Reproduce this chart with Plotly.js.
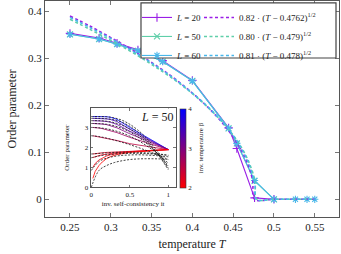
<!DOCTYPE html>
<html><head><meta charset="utf-8">
<script src="https://cdn.plot.ly/plotly-3.0.1.min.js"></script>
<style>html,body{margin:0;padding:0;background:#fff}#c{width:341px;height:254px}</style>
</head><body><div id="c"></div>
<script>
// ---- main panel data (L = system size), T = 1/beta ----
const T = [0.25, 0.2857, 0.3077, 0.3333, 0.3636, 0.4, 0.4444, 0.4545, 0.4762, 0.5];
const T60 = [0.25, 0.2857, 0.3077, 0.3333, 0.3636, 0.4, 0.4444, 0.4545, 0.4762, 0.5, 0.5263, 0.5405, 0.55];
const op20 = [0.353, 0.343, 0.332, 0.318, 0.295, 0.253, 0.152, 0.108, 0.003, 0.0];
const op50 = [0.351, 0.341, 0.330, 0.316, 0.293, 0.252, 0.151, 0.119, 0.039, 0.0];
const op60 = [0.351, 0.341, 0.330, 0.316, 0.293, 0.252, 0.151, 0.119, 0.040, 0.0, 0.0, 0.0, 0.0];
// fitted curves
const fitT20 = [0.25,0.275,0.3,0.325,0.35,0.375,0.4,0.42,0.44,0.455,0.465,0.47,0.474,0.4762,0.5,0.55];
const fit20  = [0.390,0.368,0.344,0.319,0.291,0.261,0.226,0.194,0.156,0.119,0.087,0.065,0.038,0,0,0];
const fitT50 = [0.25,0.275,0.3,0.325,0.35,0.375,0.4,0.42,0.44,0.455,0.465,0.47,0.475,0.477,0.479,0.5,0.55];
const fit50  = [0.383,0.361,0.338,0.314,0.287,0.258,0.225,0.194,0.158,0.124,0.095,0.076,0.051,0.036,0,0,0];
const fitT60 = [0.25,0.275,0.3,0.325,0.35,0.375,0.4,0.42,0.44,0.455,0.465,0.47,0.475,0.477,0.478,0.5,0.55];
const fit60  = [0.387,0.365,0.342,0.317,0.290,0.260,0.226,0.195,0.158,0.123,0.092,0.072,0.044,0.026,0,0,0];
const dataNames = ['<i>L</i> = 20', '<i>L</i> = 50', '<i>L</i> = 60'];
const fitNames = ['0.82 · (<i>T</i> − 0.4762)<sup>1/2</sup>', '0.80 · (<i>T</i> − 0.479)<sup>1/2</sup>', '0.81 · (<i>T</i> − 0.478)<sup>1/2</sup>'];

// ---- inset data (L = 50): order parameter vs inverse self-consistency iteration ----
const betas = [4, 3.5, 3.25, 3, 2.75, 2.5, 2.25, 2.2, 2.1, 2.0];
const itX = [0.02, 0.033, 0.05, 0.1, 0.143, 0.2, 0.25, 0.333, 0.5, 1];
const itY = [
  [3.57,3.57,3.57,3.57,3.57,3.56,3.53,3.43,3.02,1.9],
  [3.48,3.48,3.48,3.48,3.47,3.45,3.42,3.32,2.93,1.9],
  [3.36,3.36,3.36,3.35,3.34,3.32,3.28,3.17,2.83,1.9],
  [3.22,3.22,3.22,3.21,3.19,3.16,3.11,3.00,2.70,1.9],
  [3.02,3.02,3.01,2.99,2.96,2.91,2.86,2.76,2.52,1.9],
  [2.60,2.59,2.58,2.55,2.52,2.47,2.43,2.36,2.20,1.9],
  [1.68,1.69,1.70,1.72,1.74,1.76,1.77,1.79,1.82,1.9],
  [1.50,1.52,1.55,1.60,1.64,1.68,1.71,1.75,1.80,1.9],
  [1.00,1.10,1.20,1.38,1.48,1.58,1.64,1.71,1.79,1.9],
  [0.45,0.62,0.80,1.10,1.28,1.45,1.55,1.65,1.76,1.9]
];
const fitX = [0, 0.1, 0.2, 0.3, 0.4, 0.5, 0.6, 0.7, 0.8, 0.9, 1.0];
const fitY = [
  [3.57,3.57,3.56,3.50,3.38,3.18,2.90,2.55,2.10,1.60,1.00],
  [3.48,3.48,3.46,3.40,3.28,3.08,2.80,2.44,2.00,1.48,0.88],
  [3.36,3.36,3.33,3.26,3.13,2.94,2.68,2.35,1.95,1.48,0.95],
  [3.22,3.21,3.18,3.10,2.97,2.79,2.56,2.27,1.93,1.54,1.10],
  [3.02,3.00,2.95,2.86,2.74,2.58,2.38,2.14,1.87,1.56,1.22],
  [2.60,2.56,2.48,2.38,2.27,2.15,2.02,1.88,1.73,1.57,1.40],
  [1.68,1.71,1.74,1.76,1.77,1.77,1.76,1.74,1.71,1.67,1.62],
  [1.49,1.58,1.64,1.68,1.70,1.71,1.71,1.70,1.68,1.65,1.61],
  [0.85,1.30,1.47,1.56,1.61,1.63,1.64,1.63,1.61,1.58,1.54],
  [0.00,0.85,1.10,1.25,1.34,1.40,1.43,1.44,1.44,1.43,1.41]
];

const F = 'Liberation Serif, DejaVu Serif, serif';
const cols = ['#9a1fe6', '#5fcfa9', '#49b7ea'];
const syms = ['cross-thin-open', 'x-thin-open', 'asterisk-open'];
function betaColor(b){const t=(b-2)/2;return 'rgb('+Math.round(255*(1-t))+',0,'+Math.round(255*t)+')';}

const traces = [];
const Ts = [T, T, T60], Ys = [op20, op50, op60];
const FT = [fitT20, fitT50, fitT60], FY = [fit20, fit50, fit60];
for (let i=0;i<3;i++){
  traces.push({x:Ts[i], y:Ys[i], type:'scatter', mode:'lines+markers', name:dataNames[i], legend:'legend',
    line:{color:cols[i], width:1.1}, marker:{symbol:syms[i], size:6, line:{color:cols[i], width:1.1}, color:cols[i]}});
}
for (let i=0;i<3;i++){
  traces.push({x:FT[i], y:FY[i], type:'scatter', mode:'lines', name:fitNames[i], legend:'legend2',
    line:{color:cols[i], width:1.6, dash:'3px,2.5px', shape:'spline'}});
}
// inset solid curves
for (let k=0;k<betas.length;k++){
  traces.push({x:itX, y:itY[k], xaxis:'x2', yaxis:'y2', type:'scatter', mode:'lines', showlegend:false,
    line:{color:betaColor(betas[k]), width:0.8}});
}
for (let k=0;k<betas.length;k++){
  traces.push({x:fitX, y:fitY[k], xaxis:'x2', yaxis:'y2', type:'scatter', mode:'lines', showlegend:false,
    line:{color:'#111', width:0.8, dash:'2px,1.5px', shape:'spline'}});
}
// colour bar carrier (points outside the inset range)
traces.push({x:[-5,-5], y:[-5,-5], xaxis:'x2', yaxis:'y2', type:'scatter', mode:'markers', showlegend:false,
  hoverinfo:'skip',
  marker:{color:[2,4], cmin:2, cmax:4, colorscale:[[0,'rgb(255,0,0)'],[1,'rgb(0,0,255)']], showscale:true, size:1,
    colorbar:{x:0.459, xanchor:'left', y:0.319, yanchor:'middle', len:79, lenmode:'pixels', thickness:6,
      outlinewidth:0.6, outlinecolor:'#333', tickvals:[2,3,4], ticks:'', xpad:0, ypad:0,
      tickfont:{family:F, size:7, color:'#222'},
      title:{text:'inv. temperature β', side:'right', font:{family:F, size:7, color:'#222'}}}}});

const axBase = {showline:true, mirror:'ticks', ticks:'inside', linecolor:'#555', linewidth:1, tickcolor:'#777',
  showgrid:false, zeroline:false};
const layout = {
  width:341, height:254, margin:{l:45, r:2, t:1, b:37}, paper_bgcolor:'#fff', plot_bgcolor:'#fff',
  font:{family:F, color:'#222'}, showlegend:true,
  xaxis:Object.assign({}, axBase, {range:[0.2194,0.5797], tickvals:[0.25,0.3,0.35,0.4,0.45,0.5,0.55], ticklen:4,
    tickfont:{family:F,size:11}, title:{text:'temperature <i>T</i>', font:{family:F,size:12}, standoff:7}}),
  yaxis:Object.assign({}, axBase, {range:[-0.0377,0.4219], tickvals:[0,0.1,0.2,0.3,0.4], ticklen:4,
    tickfont:{family:F,size:11}, title:{text:'Order parameter', font:{family:F,size:12}, standoff:8}}),
  xaxis2:Object.assign({}, axBase, {domain:[0.1554,0.4446], anchor:'y2', range:[-0.008,1.096], tickvals:[0,0.5,1],
    ticklen:2.5, tickfont:{family:F,size:7}, title:{text:'inv. self-consistency it', font:{family:F,size:7}, standoff:3}}),
  yaxis2:Object.assign({}, axBase, {domain:[0.1375,0.5046], anchor:'x2', range:[0,4.0], tickvals:[0,1,2,3],
    ticklen:2.5, tickfont:{family:F,size:7}, title:{text:'Order parameter', font:{family:F,size:7}, standoff:14}}),
  legend:{x:0.3129, y:0.991, xanchor:'left', yanchor:'top', bgcolor:'rgba(0,0,0,0)', borderwidth:0,
    font:{family:F,size:9,color:'#222'}, itemwidth:30, tracegroupgap:0},
  legend2:{x:0.5238, y:0.991, xanchor:'left', yanchor:'top', bgcolor:'rgba(0,0,0,0)', borderwidth:0,
    font:{family:F,size:9,color:'#222'}, itemwidth:30, tracegroupgap:0},
  shapes:[{type:'rect', xref:'paper', yref:'paper', x0:0.3265, x1:0.9898, y0:0.736, y1:0.991, layer:'above',
    fillcolor:'#fff', line:{color:'#444', width:1.2}}],
  annotations:[{x:0.85, y:3.57, xref:'x2', yref:'y2', text:'<i>L</i> = 50', showarrow:false,
    font:{family:F,size:12,color:'#222'}, bgcolor:'#fff'}]
};
Plotly.newPlot('c', traces, layout, {staticPlot:true, displayModeBar:false});
</script></body></html>
